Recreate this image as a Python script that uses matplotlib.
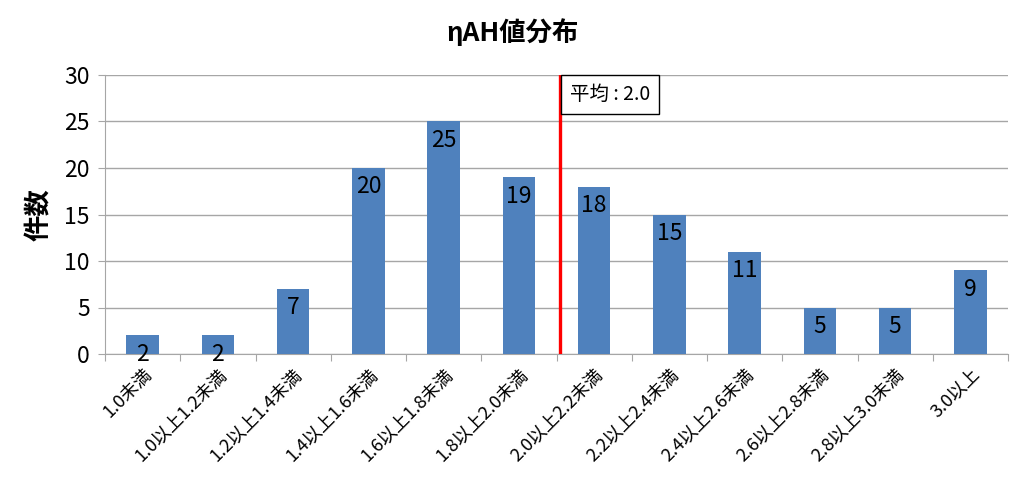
import matplotlib
matplotlib.use("Agg")
import matplotlib.pyplot as plt
import numpy as np

plt.rcParams['font.family'] = ['Noto Sans CJK JP', 'DejaVu Sans']

categories = ['1.0未満', '1.0以上1.2未満', '1.2以上1.4未満', '1.4以上1.6未満',
              '1.6以上1.8未満', '1.8以上2.0未満', '2.0以上2.2未満', '2.2以上2.4未満',
              '2.4以上2.6未満', '2.6以上2.8未満', '2.8以上3.0未満', '3.0以上']
counts = [2, 2, 7, 20, 25, 19, 18, 15, 11, 5, 5, 9]
mean_pos = 5.55  # between 1.8-2.0 and 2.0-2.2
mean_label = '平均 : 2.0'
yticks = [0, 5, 10, 15, 20, 25, 30]

fig = plt.figure(figsize=(10.24, 4.87), dpi=100)
ax = fig.add_axes([105 / 1024, 1 - 354 / 487, 903 / 1024, 279 / 487])

x = np.arange(len(categories))
ax.bar(x, counts, width=0.43, color='#4f81bd', zorder=3)
for xi, v in zip(x, counts):
    ax.text(xi, v - 0.8, str(v), ha='center', va='top', fontsize=16.5, zorder=4)

ax.set_xlim(-0.5, len(categories) - 0.5)
ax.set_ylim(0, 30)
ax.set_yticks(yticks)
ax.set_yticklabels([str(t) for t in yticks], fontsize=16.5)
ax.grid(axis='y', color='#a6a6a6', linewidth=1, zorder=0)

ax.set_xticks(np.arange(len(categories) + 1) - 0.5, minor=False)
ax.set_xticklabels([])
ax.set_xticks(x, minor=True)
ax.set_xticklabels(categories, minor=True, rotation=45, ha='right',
                   rotation_mode='anchor', fontsize=13)
ax.tick_params(axis='x', which='minor', length=0, pad=8)
ax.tick_params(axis='x', which='major', length=5, color='#a6a6a6')
ax.tick_params(axis='y', length=5, color='#a6a6a6', pad=6)

for side in ['top', 'right']:
    ax.spines[side].set_visible(False)
ax.spines['left'].set_color('#a6a6a6')
ax.spines['bottom'].set_color('#a6a6a6')

ax.axvline(mean_pos, color='#ff0000', linewidth=2.4, zorder=5)
ax.text(mean_pos + 0.13, 27.9, mean_label, fontsize=14, ha='left', va='center', zorder=6,
        bbox=dict(boxstyle='square,pad=0.45', facecolor='white', edgecolor='black', linewidth=1))

ax.set_ylabel('件数', fontsize=19, fontweight='bold', labelpad=8)
fig.text(0.5, 1 - 33 / 487, 'ηAH値分布', ha='center', va='center', fontsize=19, fontweight='bold')

fig.savefig('out.png', dpi=100)
